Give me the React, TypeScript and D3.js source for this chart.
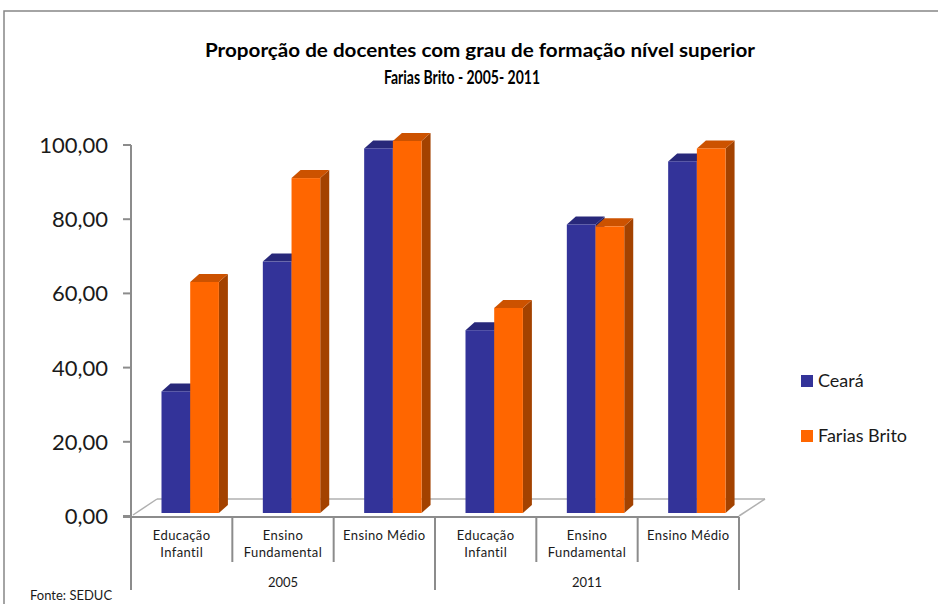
import React from "react";
import * as d3 from "d3";

const categories = [
  "Educação\nInfantil",
  "Ensino\nFundamental",
  "Ensino Médio",
  "Educação\nInfantil",
  "Ensino\nFundamental",
  "Ensino Médio",
];
const groups = ["2005", "2011"];
const seriesNames = ["Ceará", "Farias Brito"];
const ceara = [32.5, 67.5, 98, 49, 77.5, 94.5];
const fariasBrito = [62, 90, 100, 55, 77, 98];
const yTicks = [0, 20, 40, 60, 80, 100];

const W = 938;
const H = 604;
const left = 131;
const right = 739;
const axisY = 517;
const FONT = "Lato, 'Open Sans', sans-serif";

const faces = [
  { front: "#333399", top: "#28287a", side: "#1f1f66" },
  { front: "#ff6600", top: "#cc5200", side: "#a34200" },
];

export default function App() {
  const y = d3.scaleLinear().domain([0, 100]).range([516, 145]);
  const xCat = d3.scaleBand<number>().domain(d3.range(categories.length)).range([left, right]);
  const xSer = d3.scaleBand<number>().domain([0, 1]).range([30.5, 30.5 + 57.4]);
  const data = [ceara, fariasBrito];
  const dx = 9;
  const dy = -8;
  const barBottom = 513;
  const lift = 4;

  const fmt = (v: number) => v.toFixed(2).replace(".", ",");

  const bars: React.ReactNode[] = [];
  categories.forEach((_, ci) => {
    data.forEach((vals, si) => {
      const x0 = (xCat(ci) as number) + (xSer(si) as number);
      const x1 = x0 + xSer.bandwidth();
      const yt = y(vals[ci]) - lift;
      const c = faces[si];
      bars.push(
        <g key={`${ci}-${si}`}>
          <polygon
            points={`${x1},${yt} ${x1 + dx},${yt + dy} ${x1 + dx},${barBottom + dy} ${x1},${barBottom}`}
            fill={c.side}
          />
          <polygon
            points={`${x0},${yt} ${x0 + dx},${yt + dy} ${x1 + dx},${yt + dy} ${x1},${yt}`}
            fill={c.top}
          />
          <rect x={x0} y={yt} width={x1 - x0} height={barBottom - yt} fill={c.front} />
        </g>
      );
    });
  });

  const groupBounds = [left, (left + right) / 2, right];

  return (
    <svg width={W} height={H} style={{ position: "absolute", left: 0, top: 0, background: "#fff" }}>
      <rect x={4} y={11} width={W + 10} height={H + 10} fill="#fff" stroke="#868686" strokeWidth={1.5} />
      <text x={480} y={57} textAnchor="middle" fontFamily={FONT} fontWeight="bold" fontSize={18} fill="#000"
        textLength={550} lengthAdjust="spacingAndGlyphs">
        Proporção de docentes com grau de formação nível superior
      </text>
      <text x={462} y={84} textAnchor="middle" fontFamily={FONT} fontWeight="bold" fontSize={18} fill="#000"
        textLength={156} lengthAdjust="spacingAndGlyphs">
        Farias Brito - 2005- 2011
      </text>

      {/* floor */}
      <g stroke="#b0b0b0" strokeWidth={1.5} fill="none">
        <line x1={157} y1={499} x2={765} y2={499} />
        <line x1={133} y1={515} x2={157} y2={499} />
        <line x1={739} y1={516} x2={765} y2={499} />
      </g>

      {bars}

      {/* axes */}
      <g stroke="#8c8c8c" strokeWidth={2}>
        <line x1={left} y1={y(100)} x2={left} y2={590} />
        {yTicks.map((t) => (
          <line key={t} x1={123} y1={y(t)} x2={left} y2={y(t)} />
        ))}
        <line x1={123} y1={axisY} x2={right} y2={axisY} />
        {d3.range(categories.length + 1).map((i) => {
          const x = i < categories.length ? (xCat(i) as number) : right;
          const isGroup = groupBounds.some((g) => Math.abs(g - x) < 1);
          return <line key={i} x1={x} y1={axisY} x2={x} y2={isGroup ? 590 : 562} />;
        })}
      </g>
      {yTicks.map((t) => (
        <text key={t} x={108} y={y(t)} dy="0.36em" textAnchor="end" fontFamily={FONT} fontSize={22} fill="#1a1a1a">
          {fmt(t)}
        </text>
      ))}

      {/* category labels */}
      {categories.map((c, i) => {
        const cx = (xCat(i) as number) + xCat.bandwidth() / 2;
        const lines = c.split("\n");
        return (
          <text key={i} x={cx} textAnchor="middle" fontFamily={FONT} fontSize={13} fill="#1a1a1a" letterSpacing={0.4}>
            {lines.map((l, j) => (
              <tspan key={j} x={cx} y={540 + j * 17}>
                {l}
              </tspan>
            ))}
          </text>
        );
      })}
      {groups.map((g, i) => (
        <text key={g} x={(groupBounds[i] + groupBounds[i + 1]) / 2} y={587} textAnchor="middle"
          fontFamily={FONT} fontSize={13} fill="#1a1a1a">
          {g}
        </text>
      ))}

      {/* legend */}
      {seriesNames.map((s, i) => (
        <g key={s}>
          <rect x={801} y={375 + i * 55} width={12} height={12} fill={faces[i].front} />
          <text x={818} y={387 + i * 55} fontFamily={FONT} fontSize={18} fill="#1a1a1a">
            {s}
          </text>
        </g>
      ))}

      <text x={30} y={600} fontFamily={FONT} fontSize={13} fill="#1a1a1a">
        Fonte: SEDUC
      </text>
    </svg>
  );
}
